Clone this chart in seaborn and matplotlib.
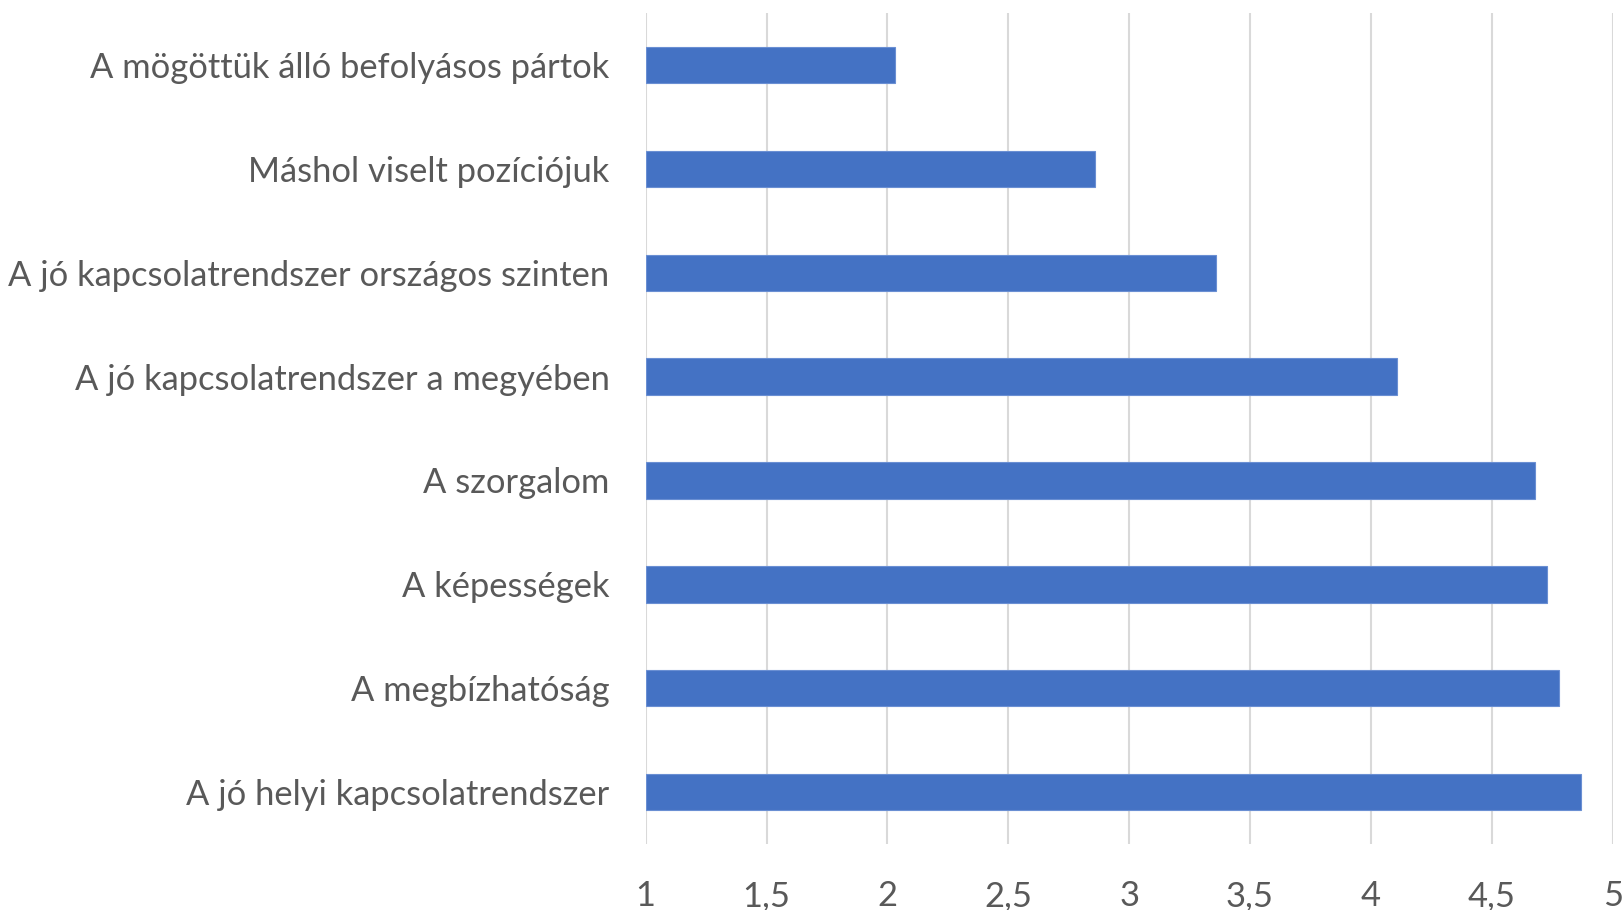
import matplotlib
matplotlib.use("Agg")
import matplotlib.pyplot as plt
import seaborn as sns
import pandas as pd

categories = [
    "A mögöttük álló befolyásos pártok",
    "Máshol viselt pozíciójuk",
    "A jó kapcsolatrendszer országos szinten",
    "A jó kapcsolatrendszer a megyében",
    "A szorgalom",
    "A képességek",
    "A megbízhatóság",
    "A jó helyi kapcsolatrendszer",
]
values = [2.03, 2.86, 3.36, 4.11, 4.68, 4.73, 4.78, 4.87]
xticks = [1, 1.5, 2, 2.5, 3, 3.5, 4, 4.5, 5]
xtick_labels = ["1", "1,5", "2", "2,5", "3", "3,5", "4", "4,5", "5"]

sns.set_theme(style="white")
plt.rcParams["font.family"] = ["Lato", "DejaVu Sans"]

df = pd.DataFrame({"cat": categories, "val": values})

fig = plt.figure(figsize=(16.24, 9.10), dpi=100)
ax = fig.add_axes([0.3976, 0.0725, 0.5954, 0.9132])

sns.barplot(data=df, y="cat", x="val", orient="h", color="#4472C4",
            saturation=1, width=0.35, ax=ax, zorder=3)
for p in ax.patches:
    p.set_x(1)
    p.set_width(p.get_width() - 1)
    p.set_edgecolor("#6a8fd3")
    p.set_linewidth(0.8)

ax.set_xlim(1, 5)
ax.set_ylim(len(categories) - 0.5, -0.5)
ax.set_xticks(xticks)
ax.set_xticklabels(xtick_labels)
ax.xaxis.grid(True, color="#d9d9d9", linewidth=1.5, zorder=0)
ax.yaxis.grid(False)
for s in ax.spines.values():
    s.set_visible(False)
ax.tick_params(axis="both", length=0, labelsize=24.8, labelcolor="#595959")
ax.tick_params(axis="x", pad=26)
ax.tick_params(axis="y", pad=26)
ax.set_xlabel("")
ax.set_ylabel("")

fig.savefig("out.png", dpi=100, facecolor="white")
